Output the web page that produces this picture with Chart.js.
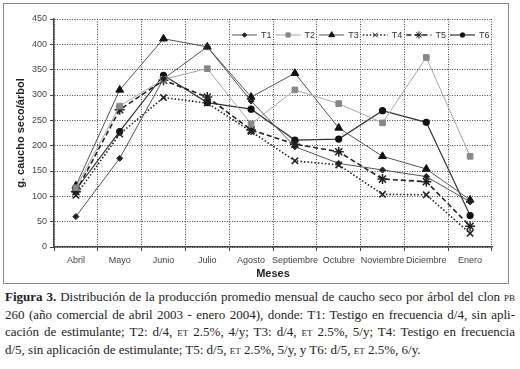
<!DOCTYPE html>
<html>
<head>
<meta charset="utf-8">
<script src="https://cdn.jsdelivr.net/npm/chart.js@4"></script>
<style>
  body { margin: 0; width: 520px; height: 369px; background: #fff; position: relative; overflow: hidden; }
  #box { position: absolute; left: 3px; top: 3px; width: 504px; height: 279px; border: 1px solid #8a8a8a; }
  #wrap { position: absolute; left: 0; top: 0; width: 520px; height: 285px; }
  #caption { position: absolute; left: 5px; top: 288px; width: 510px; font-family: "Liberation Serif", "Times New Roman", serif; font-size: 13px; line-height: 17.5px; color: #222; }
  #caption div { text-align: justify; text-align-last: justify; white-space: nowrap; }
  #caption div.last { text-align-last: left; }
  .sc { font-variant: small-caps; }
</style>
</head>
<body>
<div id="box"></div>
<div id="wrap"><canvas id="myChart" width="520" height="285"></canvas></div>
<div id="caption">
  <div><b>Figura 3.</b> Distribución de la producción promedio mensual de caucho seco por árbol del clon <span class="sc">pb</span></div>
  <div>260 (año comercial de abril 2003 - enero 2004), donde: T1: Testigo en frecuencia d/4, sin apli-</div>
  <div>cación de estimulante; T2: d/4, <span class="sc">et</span> 2.5%, 4/y; T3: d/4, <span class="sc">et</span> 2.5%, 5/y; T4: Testigo en frecuencia</div>
  <div class="last">d/5, sin aplicación de estimulante; T5: d/5, <span class="sc">et</span> 2.5%, 5/y, y T6: d/5, <span class="sc">et</span> 2.5%, 6/y.</div>
</div>
<script>
const meses = ['Abril', 'Mayo', 'Junio', 'Julio', 'Agosto', 'Septiembre', 'Octubre', 'Noviembre', 'Diciembre', 'Enero'];

const t1 = [60, 175, 332, 395, 288, 198, 165, 152, 139, 89];
const t2 = [117, 278, 331, 352, 243, 310, 283, 245, 374, 179];
const t3 = [121, 310, 411, 395, 296, 343, 235, 179, 154, 93];
const t4 = [102, 223, 295, 284, 228, 170, 162, 104, 103, 27];
const t5 = [109, 271, 329, 296, 231, 203, 188, 134, 129, 41];
const t6 = [113, 228, 339, 285, 272, 211, 213, 269, 246, 62];

const yMax = 450;
const yStep = 50;

const font = 'Arial, "Liberation Sans", sans-serif';

// leyenda dentro del area del grafico, linea + marcador + texto
const leyenda = {
  id: 'leyenda',
  afterDraw(chart) {
    const ctx = chart.ctx;
    const area = chart.chartArea;
    ctx.save();
    chart.data.datasets.forEach((ds, i) => {
      const x0 = area.left + 178 + i * 43.6;
      const y = area.top + 16;
      ctx.strokeStyle = ds.borderColor;
      ctx.lineWidth = ds.borderWidth;
      ctx.setLineDash(ds.borderDash || []);
      ctx.beginPath();
      ctx.moveTo(x0, y);
      ctx.lineTo(x0 + 25, y);
      ctx.stroke();
      ctx.setLineDash([]);
      ctx.fillStyle = ds.pointBackgroundColor;
      ctx.strokeStyle = ds.pointBorderColor;
      ctx.lineWidth = 1;
      if (Chart.helpers && Chart.helpers.drawPoint) {
        Chart.helpers.drawPoint(ctx, { pointStyle: ds.pointStyle, radius: ds.pointRadius * 0.75, rotation: 0, borderWidth: 1 }, x0 + 12.5, y);
      }
      ctx.fillStyle = '#333';
      ctx.font = '9px ' + font;
      ctx.textBaseline = 'middle';
      ctx.fillText(ds.label, x0 + 29, y + 0.5);
    });
    ctx.restore();
  }
};

const datos = {
  labels: meses,
  datasets: [
    { label: 'T1', data: t1, borderColor: '#555', borderWidth: 1, pointStyle: 'rectRot', pointRadius: 3, pointBackgroundColor: '#222', pointBorderColor: '#222' },
    { label: 'T2', data: t2, borderColor: '#a8a8a8', borderWidth: 1, pointStyle: 'rect', pointRadius: 4, pointBackgroundColor: '#888', pointBorderColor: '#888' },
    { label: 'T3', data: t3, borderColor: '#555', borderWidth: 1, pointStyle: 'triangle', pointRadius: 4.5, pointBackgroundColor: '#111', pointBorderColor: '#111' },
    { label: 'T4', data: t4, borderColor: '#222', borderWidth: 1.6, borderDash: [1.5, 2], pointStyle: 'crossRot', pointRadius: 4.5, pointBackgroundColor: '#222', pointBorderColor: '#222', pointBorderWidth: 1.6 },
    { label: 'T5', data: t5, borderColor: '#222', borderWidth: 1.6, borderDash: [5, 3], pointStyle: 'star', pointRadius: 5, pointBackgroundColor: '#222', pointBorderColor: '#222', pointBorderWidth: 1.5 },
    { label: 'T6', data: t6, borderColor: '#333', borderWidth: 1.2, pointStyle: 'circle', pointRadius: 3, pointBackgroundColor: '#111', pointBorderColor: '#111' }
  ]
};

const config = {
  type: 'line',
  data: datos,
  plugins: [leyenda],
  options: {
    responsive: false,
    animation: false,
    layout: { padding: { left: 14, right: 28, top: 19, bottom: 4 } },
    plugins: { legend: { display: false }, tooltip: { enabled: false } },
    elements: { line: { tension: 0 } },
    scales: {
      x: {
        offset: true,
        afterFit: (s) => { s.height = 34; },
        grid: { offset: true, color: '#444', tickLength: 4, tickColor: '#444' },
        border: { color: '#444', width: 1.5, dash: [1, 1.5] },
        ticks: { color: '#444', font: { family: font, size: 9 }, padding: 4, maxRotation: 0, autoSkip: false },
        title: { display: true, text: 'Meses', color: '#222', font: { family: font, size: 11, weight: 'bold' }, padding: 0 }
      },
      y: {
        min: 0,
        max: yMax,
        afterFit: (s) => { s.width = 40; },
        grid: { color: '#444', tickLength: 4, tickColor: '#444' },
        border: { color: '#444', width: 1.5, dash: [1, 1.5] },
        ticks: { stepSize: yStep, color: '#444', font: { family: font, size: 9 }, padding: 3 },
        title: { display: true, text: 'g. caucho seco/árbol', color: '#222', font: { family: font, size: 11, weight: 'bold' }, padding: 0 }
      }
    }
  }
};

const myChart = new Chart(document.getElementById('myChart'), config);
</script>
</body>
</html>
